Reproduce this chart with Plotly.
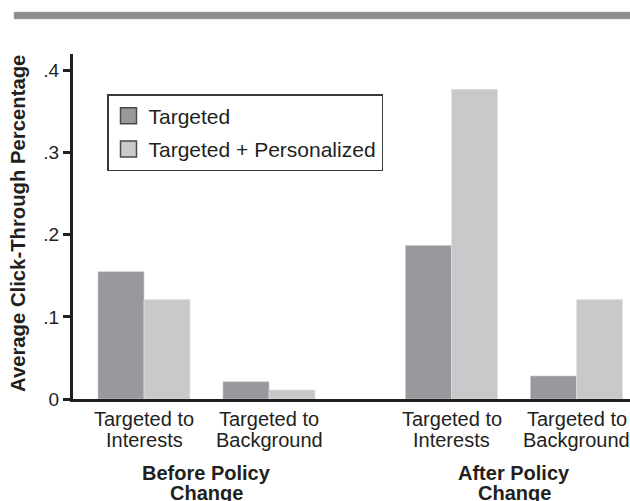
import plotly.graph_objects as go

# ---- data ----
cat_line1 = ["Targeted to", "Targeted to", "Targeted to", "Targeted to"]
cat_line2 = ["Interests", "Background", "Interests", "Background"]
group_line1 = ["Before Policy", "After Policy"]
group_line2 = ["Change", "Change"]
series_names = ["Targeted", "Targeted + Personalized"]
targeted = [0.155, 0.021, 0.187, 0.028]
targeted_personalized = [0.121, 0.011, 0.377, 0.121]
y_tick_vals = [0, 0.1, 0.2, 0.3, 0.4]
y_tick_text = ["0", ".1", ".2", ".3", ".4"]

# ---- layout helpers ----
W, H = 630, 501
ML, MR, MT, MB = 73, 0, 54, 102
PW, PH = W - ML - MR, H - MT - MB
group_step = 2.46
pos = [g * group_step + i for g in range(2) for i in range(2)]
group_centers = [g * group_step + 0.5 for g in range(2)]


def px_x(page_px):
    return (page_px - ML) / PW


def px_y(page_py):
    return (H - MB - page_py) / PH


FONT = "Liberation Sans, Arial, Helvetica, sans-serif"
TXT = "#231f20"
FS = 20
colors = ["#98999c", "#c8c9cb"]
edge = ["#c9cacc", "#e2e3e4"]

fig = go.Figure()
for name, vals, c, e, g in zip(series_names, [targeted, targeted_personalized], colors, edge, ["a", "b"]):
    fig.add_trace(go.Bar(x=pos, y=vals, name=name, legendgroup=g, showlegend=False,
                         marker=dict(color=c, line=dict(width=0.6, color=e))))
    # legend proxy with a larger outlined square swatch
    fig.add_trace(go.Scatter(x=[None], y=[None], mode="markers", name=name, legendgroup=g,
                             marker=dict(symbol="square", size=20, color=c,
                                         line=dict(width=1.5, color="#4a4a4a"))))

fig.update_layout(
    width=W, height=H,
    margin=dict(l=ML, r=MR, t=MT, b=MB, autoexpand=False),
    paper_bgcolor="white", plot_bgcolor="white",
    barmode="group", bargap=0.264, bargroupgap=0,
    font=dict(family=FONT, color=TXT, size=FS),
    showlegend=True,
    legend=dict(x=px_x(107), y=px_y(94), xanchor="left", yanchor="top",
                bordercolor="#3a3a3a", borderwidth=1.5, bgcolor="white",
                font=dict(size=21, family=FONT, color=TXT),
                tracegroupgap=3, itemwidth=30, itemsizing="trace"),
    xaxis=dict(range=[-0.568, 3.888], tickvals=pos, showticklabels=False,
               showgrid=False, zeroline=False, showline=True, linewidth=3,
               linecolor="#231f20", ticks=""),
    yaxis=dict(range=[0, 0.42], tickvals=y_tick_vals, ticktext=y_tick_text,
               showgrid=False, zeroline=False, showline=True, linewidth=3,
               linecolor="#231f20", ticks="outside", ticklen=7, tickwidth=3,
               tickcolor="#231f20", tickfont=dict(size=19, color=TXT)),
)

# category labels (two tight lines each)
for x, l1, l2 in zip(pos, cat_line1, cat_line2):
    fig.add_annotation(x=x, xref="x", y=px_y(406), yref="paper", text=l1,
                       showarrow=False, yanchor="top", font=dict(size=FS))
    fig.add_annotation(x=x, xref="x", y=px_y(427), yref="paper", text=l2,
                       showarrow=False, yanchor="top", font=dict(size=FS))

# group labels
for gx, l1, l2 in zip(group_centers, group_line1, group_line2):
    fig.add_annotation(x=gx, xref="x", y=px_y(460), yref="paper", text="<b>" + l1 + "</b>",
                       showarrow=False, yanchor="top", font=dict(size=FS))
    fig.add_annotation(x=gx, xref="x", y=px_y(480), yref="paper", text="<b>" + l2 + "</b>",
                       showarrow=False, yanchor="top", font=dict(size=FS))

fig.add_annotation(x=px_x(18), xref="paper", xanchor="center", y=px_y(224), yref="paper",
                   yanchor="middle",
                   text="<b>Average Click-Through Percentage</b>", textangle=-90,
                   showarrow=False, font=dict(size=20.3, family=FONT, color=TXT))

fig.add_shape(type="rect", xref="paper", yref="paper",
              x0=px_x(14), x1=px_x(640),
              y0=px_y(19), y1=px_y(12),
              fillcolor="#8c8c8c", line=dict(width=0.5, color="#b0b0b0"))

fig.write_html(
    "out.html",
    config={"displayModeBar": False},
    post_script="document.body.style.margin='0';document.documentElement.style.overflow='hidden';document.body.style.overflow='hidden';",
)
